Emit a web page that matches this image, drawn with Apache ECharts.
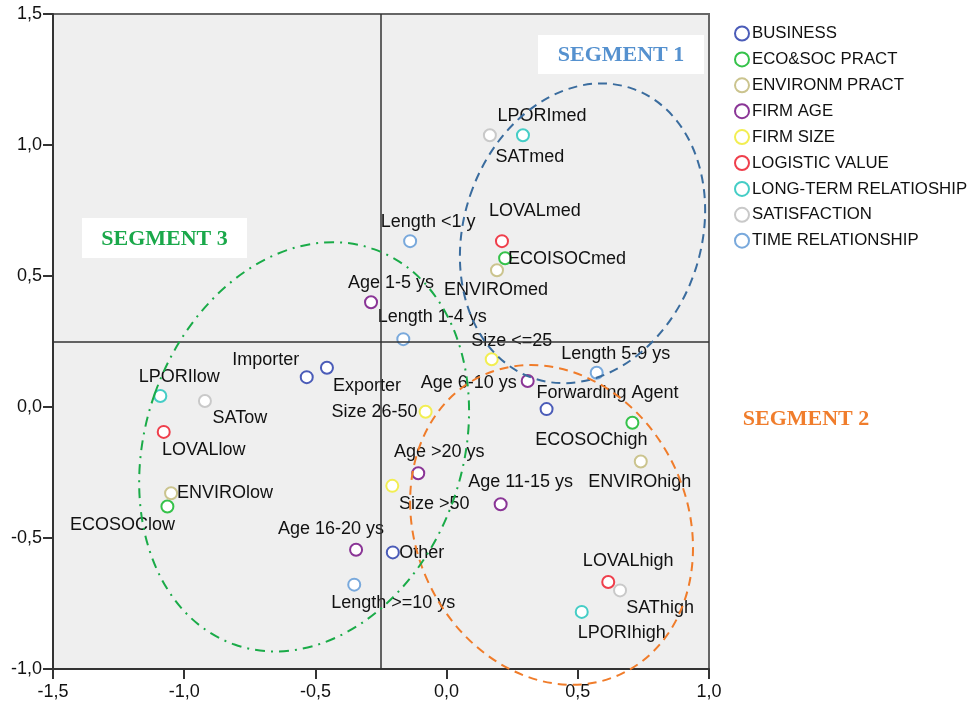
<!DOCTYPE html>
<html>
<head>
<meta charset="utf-8">
<script src="https://cdn.jsdelivr.net/npm/echarts@6/dist/echarts.min.js"></script>
<style>
  html, body { margin: 0; padding: 0; background: #fff; }
  #main { width: 974px; height: 704px; }
</style>
</head>
<body>
<div id="main"></div>
<script>
// groups (legend order)
var groups = ['BUSINESS', 'ECO&SOC PRACT', 'ENVIRONM PRACT', 'FIRM AGE', 'FIRM SIZE',
  'LOGISTIC VALUE', 'LONG-TERM RELATIOSHIP', 'SATISFACTION', 'TIME RELATIONSHIP'];

// points: [dim1, dim2, label]
var business = [[-0.533, 0.114, 'Importer'], [-0.456, 0.150, 'Exporter'], [0.381, -0.008, 'Forwarding Agent'], [-0.205, -0.555, 'Other']];
var ecoSoc = [[0.223, 0.568, 'ECOISOCmed'], [0.708, -0.060, 'ECOSOChigh'], [-1.064, -0.380, 'ECOSOClow']];
var environ = [[0.192, 0.522, 'ENVIROmed'], [0.740, -0.208, 'ENVIROhigh'], [-1.050, -0.329, 'ENVIROlow']];
var firmAge = [[-0.288, 0.400, 'Age 1-5 ys'], [0.309, 0.099, 'Age 6-10 ys'], [0.206, -0.371, 'Age 11-15 ys'], [-0.345, -0.545, 'Age 16-20 ys'], [-0.108, -0.253, 'Age >20 ys']];
var firmSize = [[0.172, 0.182, 'Size <=25'], [-0.080, -0.018, 'Size 26-50'], [-0.207, -0.301, 'Size >50']];
var logValue = [[0.211, 0.633, 'LOVALmed'], [-1.078, -0.095, 'LOVALlow'], [0.616, -0.668, 'LOVALhigh']];
var longTerm = [[0.291, 1.037, 'LPORImed'], [-1.091, 0.042, 'LPORIlow'], [0.515, -0.782, 'LPORIhigh']];
var satisf = [[0.165, 1.037, 'SATmed'], [-0.921, 0.023, 'SATow'], [0.661, -0.700, 'SAThigh']];
var timeRel = [[-0.139, 0.633, 'Length <1 y'], [-0.165, 0.259, 'Length 1-4 ys'], [0.572, 0.131, 'Length 5-9 ys'], [-0.352, -0.678, 'Length >=10 ys']];

var groupData = [business, ecoSoc, environ, firmAge, firmSize, logValue, longTerm, satisf, timeRel];
var groupColors = ['#4b5cb8', '#35c24a', '#cbc48e', '#8a3596', '#f2ee52', '#ef3f4c', '#45cdc6', '#c9c9c9', '#79a9dc'];

// quadrant lines
var refX = -0.25;
var refY = 0.25;

// axis ranges [min, max, step]
var xTicks = [-1.5, 1.0, 0.5];
var yTicks = [-1.0, 1.5, 0.5];

// label offsets (px) of the label centre from its point
var labelOffset = {
  'LPORImed': [19, -19], 'SATmed': [40, 22], 'LOVALmed': [33, -30], 'Length <1 y': [18, -19],
  'ECOISOCmed': [62, 1], 'ENVIROmed': [-1, 20], 'Age 1-5 ys': [20, -19], 'Length 1-4 ys': [29, -22],
  'Size <=25': [20, -18], 'Length 5-9 ys': [19, -19], 'Age 6-10 ys': [-59, 2], 'Forwarding Agent': [61, -16],
  'ECOSOChigh': [-41, 17], 'ENVIROhigh': [-1, 21], 'Size 26-50': [-51, 0], 'Importer': [-41, -17],
  'Exporter': [40, 18], 'LPORIlow': [19, -19], 'SATow': [35, 17], 'LOVALlow': [40, 18],
  'ENVIROlow': [54, 0], 'ECOSOClow': [-45, 18], 'Age 16-20 ys': [-25, -21], 'Length >=10 ys': [39, 18],
  'Other': [29, 1], 'Age >20 ys': [21, -21], 'Size >50': [42, 18], 'Age 11-15 ys': [20, -22],
  'LOVALhigh': [20, -21], 'SAThigh': [40, 18], 'LPORIhigh': [40, 21]
};

// segment ellipses in data units: centre, half axes, tilt (deg, + = top leans right)
var segments = [
  { cx: 0.518, cy: 0.663, rx: 0.452, ry: 0.584, tilt: 18.7, color: '#3a6c9e', dash: [9, 6] },
  { cx: 0.400, cy: -0.450, rx: 0.518, ry: 0.628, tilt: -24.9, color: '#f07c2a', dash: [9, 6] },
  { cx: -0.543, cy: -0.152, rx: 0.604, ry: 0.800, tilt: 19.4, color: '#1aab48', dash: [10, 6, 2, 6] }
];

function fmt(v) { return v.toFixed(1).replace('.', ','); }

var txt = '#111';
var font = 'Liberation Sans';

var series = [];
for (var i = 0; i < groups.length; i++) {
  var s = {
    name: groups[i],
    type: 'scatter',
    symbol: 'emptyCircle',
    symbolSize: 12,
    itemStyle: { color: groupColors[i], borderWidth: 1.6, opacity: 1 },
    label: {
      show: true,
      position: 'inside',
      color: txt,
      fontFamily: font,
      fontSize: 18,
      formatter: function (p) { return p.value[2]; }
    },
    labelLayout: function (p) {
      var off = labelOffset[groupData[p.seriesIndex][p.dataIndex][2]] || [0, 0];
      return { dx: off[0], dy: off[1] };
    },
    data: groupData[i]
  };
  if (i === 0) {
    s.markLine = {
      silent: true,
      symbol: 'none',
      label: { show: false },
      lineStyle: { color: '#333', width: 1.5, type: 'solid' },
      data: [{ xAxis: refX }, { yAxis: refY }]
    };
  }
  series.push(s);
}

var myChart = echarts.init(document.getElementById('main'));
myChart.setOption({
  animation: false,
  backgroundColor: '#fff',
  grid: {
    left: 53, top: 14, right: 265, bottom: 35,
    show: true, backgroundColor: '#efefef', borderColor: '#666', borderWidth: 2
  },
  legend: {
    orient: 'vertical',
    left: 729,
    top: 20,
    itemWidth: 14,
    itemHeight: 14,
    itemGap: 8.9,
    textStyle: { color: txt, fontFamily: font, fontSize: 16.8, padding: [0, 0, 0, -2] },
    data: groups
  },
  xAxis: {
    type: 'value',
    min: xTicks[0], max: xTicks[1], interval: xTicks[2],
    axisLine: { show: true, onZero: false, lineStyle: { color: '#333', width: 2 } },
    axisTick: { show: true, length: 10, lineStyle: { color: '#333', width: 2 } },
    axisLabel: { color: txt, fontFamily: font, fontSize: 18, margin: 14, formatter: fmt },
    splitLine: { show: false }
  },
  yAxis: {
    type: 'value',
    min: yTicks[0], max: yTicks[1], interval: yTicks[2],
    axisLine: { show: true, onZero: false, lineStyle: { color: '#333', width: 2 } },
    axisTick: { show: true, length: 10, lineStyle: { color: '#333', width: 2 } },
    axisLabel: { color: txt, fontFamily: font, fontSize: 18, margin: 11, formatter: fmt },
    splitLine: { show: false }
  },
  series: series
});

// ellipses + segment tags
var o = myChart.convertToPixel({ gridIndex: 0 }, [0, 0]);
var u = myChart.convertToPixel({ gridIndex: 0 }, [1, 1]);
var kx = u[0] - o[0], ky = o[1] - u[1];
var graphics = segments.map(function (e) {
  var c = myChart.convertToPixel({ gridIndex: 0 }, [e.cx, e.cy]);
  return {
    type: 'ellipse',
    x: c[0], y: c[1],
    rotation: -e.tilt * Math.PI / 180,
    shape: { cx: 0, cy: 0, rx: e.rx * kx, ry: e.ry * ky },
    style: { fill: 'none', stroke: e.color, lineWidth: 2, lineDash: e.dash },
    silent: true,
    z: 10
  };
});
var tags = [
  { text: 'SEGMENT 1', x: 538, y: 35, w: 166, h: 39, color: '#5591cf' },
  { text: 'SEGMENT 3', x: 82, y: 218, w: 165, h: 40, color: '#1aa84a' },
  { text: 'SEGMENT 2', x: 726, y: 398, w: 160, h: 40, color: '#f07d2c' }
];
tags.forEach(function (t) {
  graphics.push({
    type: 'rect', shape: { x: t.x, y: t.y, width: t.w, height: t.h },
    style: { fill: '#fff' }, silent: true, z: 11
  });
  graphics.push({
    type: 'text', x: t.x + t.w / 2, y: t.y + t.h / 2 + 1, silent: true, z: 12,
    style: {
      text: t.text, fill: t.color, font: 'bold 22px "Liberation Serif"',
      textAlign: 'center', textVerticalAlign: 'middle'
    }
  });
});
myChart.setOption({ graphic: graphics });
</script>
</body>
</html>
